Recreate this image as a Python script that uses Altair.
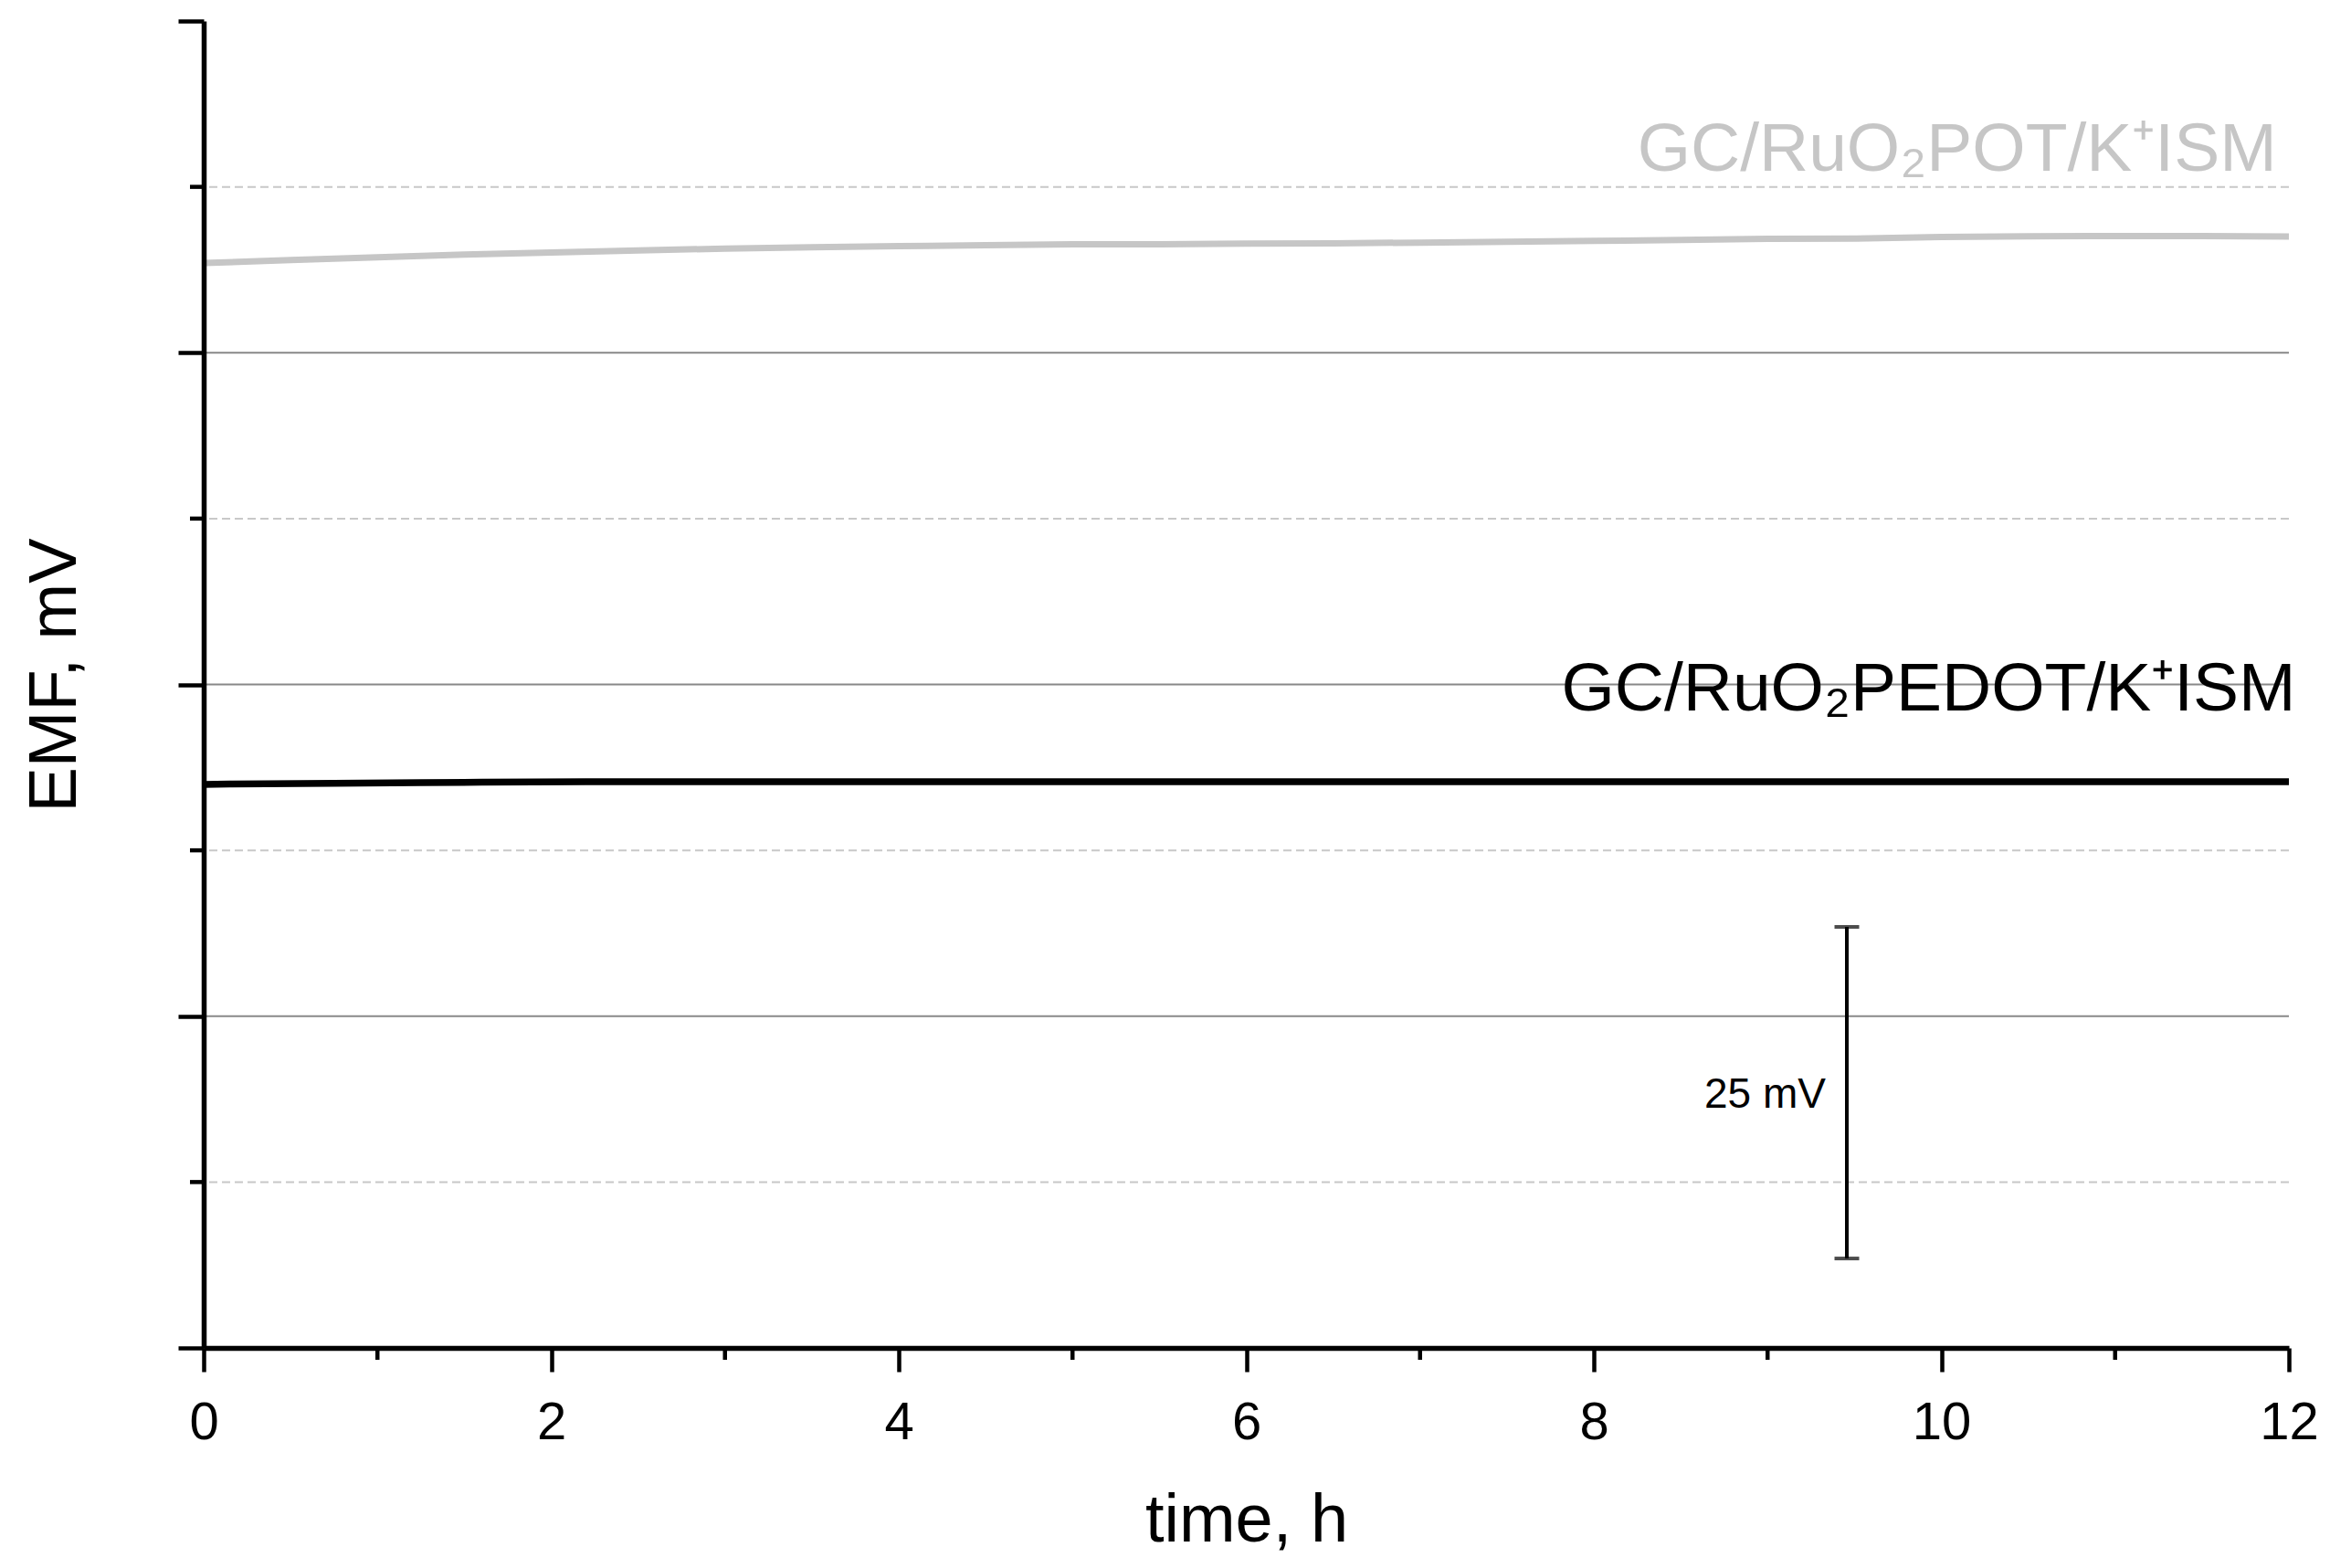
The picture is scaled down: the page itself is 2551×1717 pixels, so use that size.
import altair as alt
import pandas as pd

# --- data ---
time_pot = [0, 0.5, 1, 1.5, 2, 2.5, 3, 3.5, 4, 4.5, 5, 5.5, 6, 6.5, 7, 7.5, 8, 8.5, 9, 9.5, 10, 10.5, 11, 11.5, 12]
emf_pot = [81.76, 81.98, 82.2, 82.4, 82.55, 82.7, 82.85, 82.95, 83.03, 83.1, 83.17, 83.17, 83.22, 83.25,
           83.3, 83.36, 83.43, 83.5, 83.58, 83.6, 83.72, 83.78, 83.8, 83.8, 83.75]

time_pedot = [0, 0.15, 0.75, 1.25, 1.6, 2.2, 4, 6, 8, 10, 12]
emf_pedot = [42.46, 42.5, 42.55, 42.6, 42.63, 42.67, 42.67, 42.67, 42.67, 42.67, 42.67]

label_names = ["GC/RuO\u2082POT/K\u207aISM", "GC/RuO\u2082PEDOT/K\u207aISM"]
label_x = [11.93, 12.04]
label_y = [88.74, 48.04]
label_colors = ["#c6c6c6", "#000000"]

major_y = [25, 50, 75]
minor_y = [12.5, 37.5, 62.5, 87.5]
minor_x = [1, 3, 5, 7, 9, 11]

bar_x = 9.456
bar_lo = 6.74
bar_hi = 31.73
bar_text = "25 mV"
bar_text_x = 9.335
bar_text_y = 18.1

FONT = "Liberation Sans"
W, H = 2283, 1453

xs = alt.Scale(domain=[0, 12], nice=False, zero=False)
ys = alt.Scale(domain=[0, 100], nice=False, zero=False)

df_pot = pd.DataFrame({"t": time_pot, "emf": emf_pot})
df_pedot = pd.DataFrame({"t": time_pedot, "emf": emf_pedot})
df_lab = pd.DataFrame({"name": label_names, "x": label_x, "y": label_y, "c": label_colors})
df_major = pd.DataFrame({"y": major_y})
df_minor = pd.DataFrame({"y": minor_y})
df_minx = pd.DataFrame({"x": minor_x})
df_bar = pd.DataFrame({"x": [bar_x], "lo": [bar_lo], "hi": [bar_hi]})
df_caps = pd.DataFrame({"x": [bar_x, bar_x], "y": [bar_lo, bar_hi]})
df_bt = pd.DataFrame({"x": [bar_text_x], "y": [bar_text_y], "t": [bar_text]})

x_axis = alt.Axis(values=[0, 2, 4, 6, 8, 10, 12], format="d", title="time, h",
                  grid=False, domainColor="black", domainWidth=5.5, tickColor="black",
                  tickWidth=4.5, tickSize=26, labelFont=FONT, labelFontSize=58,
                  labelColor="black", labelBaseline="alphabetic", labelPadding=73,
                  labelFlush=False, labelOverlap=False,
                  titleFont=FONT, titleFontSize=74, titleFontWeight="normal",
                  titleColor="black", titleBaseline="alphabetic", titleY=211,
                  zindex=2)
y_axis = alt.Axis(values=[0, 25, 50, 75, 100], labels=False, title="EMF, mV",
                  grid=False, domainColor="black", domainWidth=5.5, tickColor="black",
                  tickWidth=4.5, tickSize=28, titleFont=FONT, titleFontSize=74,
                  titleFontWeight="normal", titleColor="black", titleAngle=-90,
                  titleBaseline="alphabetic", titleAlign="center", titleX=-141, titleY=716,
                  zindex=2)

grid_major = alt.Chart(df_major).mark_rule(color="#888888", strokeWidth=2).encode(
    y=alt.Y("y:Q", scale=ys, axis=y_axis)
)
grid_minor = alt.Chart(df_minor).mark_rule(color="#c8c8c8", strokeWidth=2, strokeDash=[9, 5]).encode(
    y=alt.Y("y:Q", scale=ys)
)
minor_ticks_y = alt.Chart(df_minor).mark_rule(color="black", strokeWidth=4.5).encode(
    y=alt.Y("y:Q", scale=ys), x=alt.value(0), x2=alt.value(-15)
)
minor_ticks_x = alt.Chart(df_minx).mark_rule(color="black", strokeWidth=4.5).encode(
    x=alt.X("x:Q", scale=xs, axis=x_axis), y=alt.value(H), y2=alt.value(H + 13)
)

line_pot = alt.Chart(df_pot).mark_line(color="#c6c6c6", strokeWidth=7).encode(
    x=alt.X("t:Q", scale=xs), y=alt.Y("emf:Q", scale=ys)
)
line_pedot = alt.Chart(df_pedot).mark_line(color="black", strokeWidth=7.5).encode(
    x=alt.X("t:Q", scale=xs), y=alt.Y("emf:Q", scale=ys)
)
labels = alt.Chart(df_lab).mark_text(font=FONT, fontSize=75, align="right", baseline="alphabetic").encode(
    x=alt.X("x:Q", scale=xs), y=alt.Y("y:Q", scale=ys), text="name:N",
    color=alt.Color("c:N", scale=None)
)
bar = alt.Chart(df_bar).mark_rule(color="black", strokeWidth=4).encode(
    x=alt.X("x:Q", scale=xs), y=alt.Y("lo:Q", scale=ys), y2="hi:Q"
)
caps = alt.Chart(df_caps).mark_tick(color="black", orient="horizontal", size=27, thickness=4).encode(
    x=alt.X("x:Q", scale=xs), y=alt.Y("y:Q", scale=ys)
)
bar_label = alt.Chart(df_bt).mark_text(font=FONT, fontSize=46, align="right", baseline="alphabetic", color="black").encode(
    x=alt.X("x:Q", scale=xs), y=alt.Y("y:Q", scale=ys), text="t:N"
)

chart = alt.layer(
    grid_minor, grid_major, minor_ticks_y, minor_ticks_x,
    line_pot, line_pedot, labels, bar, caps, bar_label
).properties(
    width=W, height=H,
    autosize=alt.AutoSizeParams(type="none"),
    padding={"left": 215, "top": 15, "right": 36, "bottom": 232},
    background="white",
).configure_view(stroke=None, strokeWidth=0)

chart.save("out.html", embed_options={"renderer": "svg", "actions": False})
